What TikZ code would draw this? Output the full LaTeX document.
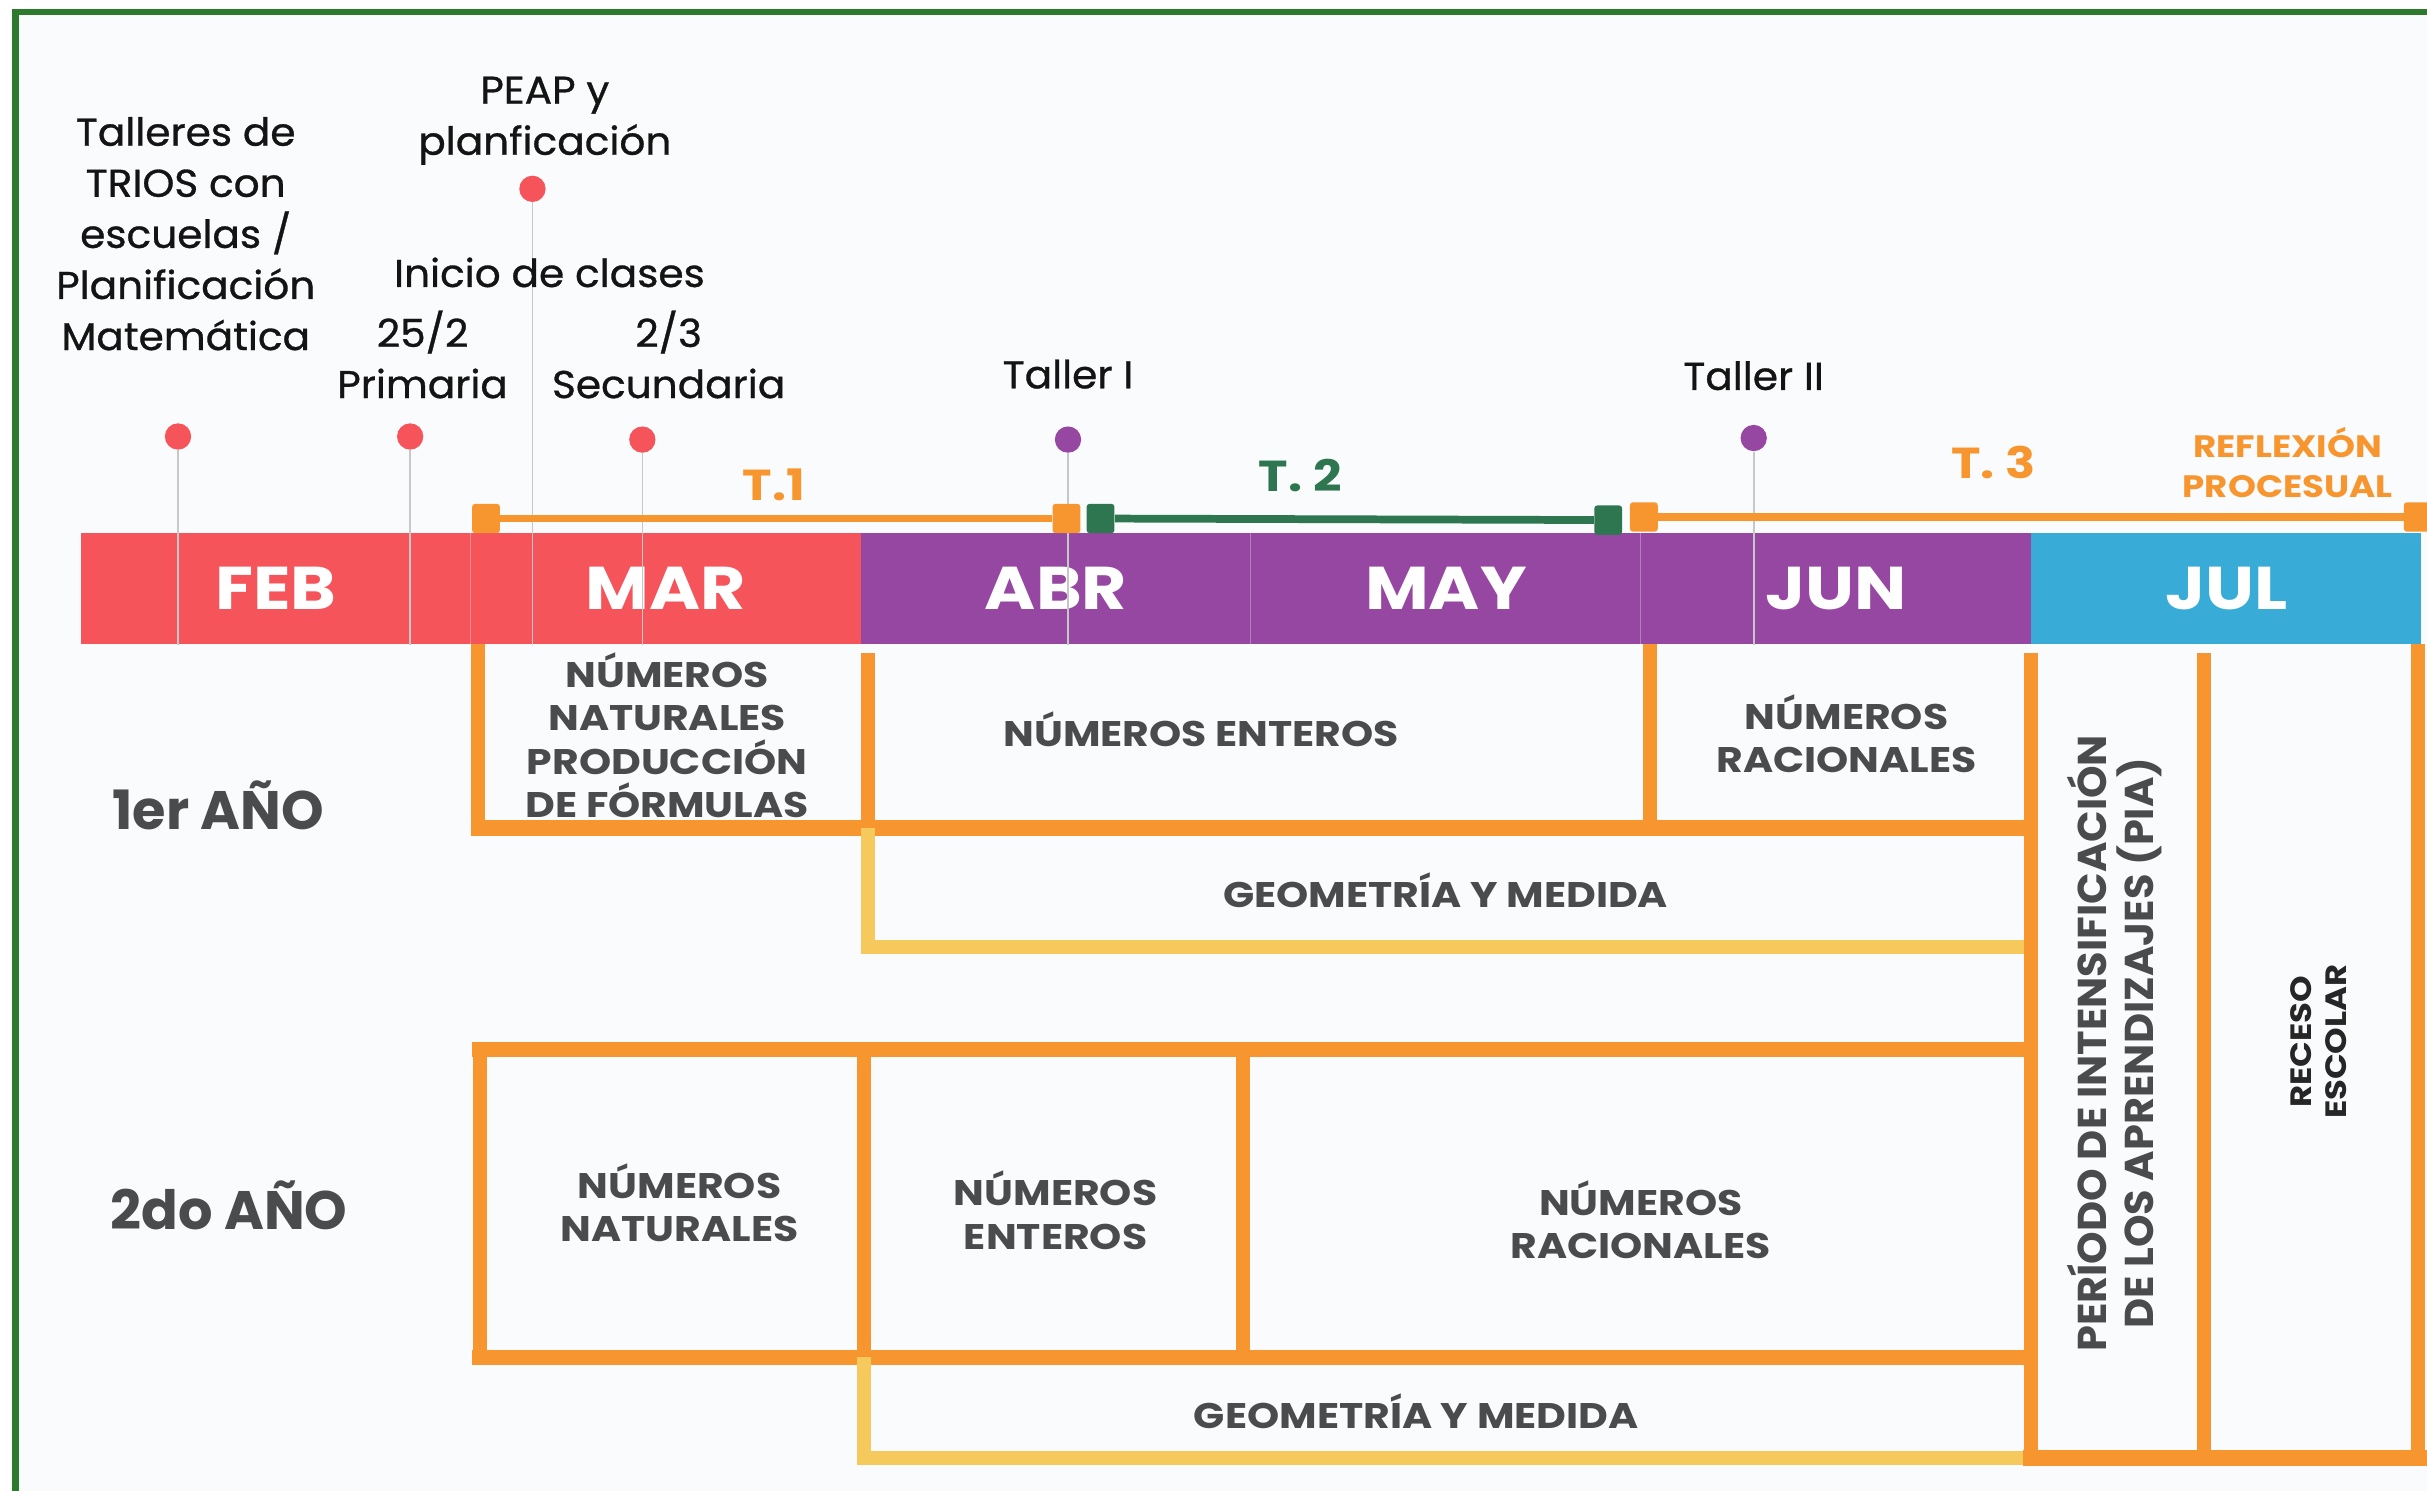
\documentclass[tikz,border=0pt]{standalone}
\usepackage{fontspec}
\setmainfont{Poppins}
\newfontfamily\medfont[FakeBold=0.8, FakeStretch=1.05]{Poppins}
\newfontfamily\widefont[FakeStretch=1.15]{Poppins}
\newfontfamily\piafont[FakeStretch=1.03]{Poppins}
\usepackage{xcolor}
\usetikzlibrary{positioning}

\definecolor{monthred}{HTML}{F5555A}
\definecolor{monthpurple}{HTML}{9647A1}
\definecolor{monthblue}{HTML}{38ACD6}
\definecolor{termorange}{HTML}{F7962F}
\definecolor{geoyellow}{HTML}{F5C95C}
\definecolor{termgreen}{HTML}{2E7650}
\definecolor{framegreen}{HTML}{2C7A2C}
\definecolor{labgrey}{HTML}{4A4B4D}
\definecolor{paper}{HTML}{FAFBFD}

\tikzset{
  month/.style={fill=#1, text=white, minimum width=252pt, minimum height=72pt,
    inner sep=0pt, anchor=north west, font=\widefont\fontsize{39}{40}\selectfont\bfseries},
  dot/.style={circle, fill=#1, minimum size=17pt, inner sep=0pt},
  pinline/.style={draw=black!22, line width=1.1pt},
  tsq/.style={fill=#1, rounded corners=2pt, minimum width=18pt, minimum height=19pt, inner sep=0pt},
  tline/.style={line width=5pt},
  tlab/.style={font=\widefont\fontsize{28}{30}\selectfont\bfseries, inner sep=0pt},
  blk/.style={align=center, inner sep=0pt, text=black!92, font=\medfont\fontsize{25}{33}\selectfont},
  rowlab/.style={inner sep=0pt, text=labgrey, font=\fontsize{35}{38}\selectfont\bfseries},
  boxlab/.style={align=center, inner sep=0pt, text=labgrey, font=\widefont\fontsize{23}{28}\selectfont\bfseries},
  overt/.style={draw=termorange, line width=9pt},
  ohorz/.style={draw=termorange, line width=10pt},
  yline/.style={draw=geoyellow, line width=9pt}
}

\begin{document}
\begin{tikzpicture}[x=1pt, y=-1pt]
\useasboundingbox (0,0) rectangle (1568,963);
\fill[paper] (10,8) rectangle (1580,970);
\draw[framegreen, line width=4pt] (10,970) -- (10,8) -- (1580,8);

% month bar
\foreach \m/\lab/\col [count=\i from 0] in {feb/FEB/monthred, mar/MAR/monthred,
    abr/ABR/monthpurple, may/MAY/monthpurple, jun/JUN/monthpurple, jul/JUL/monthblue}
  \node[month=\col] (\m) at (52+252*\i,344) {\lab};
\foreach \m in {mar,may,jun}
  \draw[white, opacity=0.3, line width=0.8pt] (\m.north west) -- (\m.south west);

% events
\node[dot=monthred] (tal) at (115,282) {};
\node[dot=monthred] (pri) at (265,282) {};
\node[dot=monthred] (peap) at (344,122) {};
\node[dot=monthred] (sec) at (415,284) {};
\node[dot=monthpurple] (tI) at (690,284) {};
\node[dot=monthpurple] (tII) at (1133,283) {};
\foreach \p in {tal,pri,peap,sec,tI,tII}
  \draw[pinline] (\p.south) -- (\p |- feb.south);

\node[blk] (talleres) at (120,151) {Talleres de\\TRIOS con\\escuelas /\\Planificación\\Matemática};
\node[blk] (peaptxt) at (352,78) {PEAP y\\planficación};
\node[blk] (inicio) at (355,176) {Inicio de clases};
\node[blk] (prim) at (273,229) {25/2\\Primaria};
\node[blk] (secu) at (432,229) {2/3\\Secundaria};
\node[blk, above=24pt of tI] (tallI) {Taller I};
\node[blk, above=22pt of tII] (tallII) {Taller II};

% trimestres
\node[tsq=termorange] (t1a) at (314,335) {};
\node[tsq=termorange] (t1b) at (689,335) {};
\node[tsq=termgreen] (t2a) at (711,335) {};
\node[tsq=termgreen] (t2b) at (1039,336) {};
\node[tsq=termorange] (t3a) at (1062,334) {};
\node[tsq=termorange] (t3b) at (1562,334) {};
\draw[tline, termorange] (t1a) -- (t1b);
\draw[tline, termgreen] (t2a) -- (t2b);
\draw[tline, termorange] (t3a) -- (t3b);
\node[tlab, text=termorange] (lt1) at (500,313) {T.1};
\node[tlab, text=termgreen] (lt2) at (840,307) {T. 2};
\node[tlab, text=termorange] (lt3) at (1288,299) {T. 3};
\node[align=center, inner sep=0pt, text=termorange, font=\widefont\fontsize{20}{26}\selectfont\bfseries]
  (refl) at (1478,299) {REFLEXIÓN\\PROCESUAL};

% 1er año
\node[rowlab] (y1) at (141,520) {1er AÑO};
\draw[overt] (309,416) -- (309,535) (561,422) -- (561,535) (1066,416) -- (1066,535);
\draw[ohorz] (304,535) -- (1316,535);
\draw[yline] (561,535) |- (1310,612);
\node[boxlab] (nat1) at (431,475) {NÚMEROS\\NATURALES\\PRODUCCIÓN\\DE FÓRMULAS};
\node[boxlab] (ent1) at (776,471) {NÚMEROS ENTEROS};
\node[boxlab] (rac1) at (1193,474) {NÚMEROS\\RACIONALES};
\node[boxlab] (geo1) at (934,575) {GEOMETRÍA Y MEDIDA};

% 2do año
\node[rowlab] (y2) at (148,779) {2do AÑO};
\draw[ohorz] (305,678) -- (1316,678) (305,877) -- (1310,877);
\draw[overt] (310,678) -- (310,877) (558,678) -- (558,877) (803,678) -- (803,877);
\draw[yline] (558,877) |- (1310,942);
\node[boxlab] (nat2) at (439,777) {NÚMEROS\\NATURALES};
\node[boxlab] (ent2) at (682,782) {NÚMEROS\\ENTEROS};
\node[boxlab] (rac2) at (1060,788) {NÚMEROS\\RACIONALES};
\node[boxlab] (geo2) at (915,912) {GEOMETRÍA Y MEDIDA};

% PIA y receso
\draw[overt] (1312,422) -- (1312,946) (1424,422) -- (1424,942) (1562,416) -- (1562,946);
\draw[ohorz] (1307,942) -- (1570,942);
\node[align=center, inner sep=0pt, rotate=90, text=labgrey,
  font=\piafont\fontsize{26}{30}\selectfont\bfseries] (pia) at (1366,674)
  {PERÍODO DE INTENSIFICACIÓN\\DE LOS APRENDIZAJES (PIA)};
\node[align=center, inner sep=0pt, rotate=90, text=black!85,
  font=\widefont\fontsize{19}{23}\selectfont\bfseries] (rec) at (1498,673) {RECESO\\ESCOLAR};
\end{tikzpicture}
\end{document}
